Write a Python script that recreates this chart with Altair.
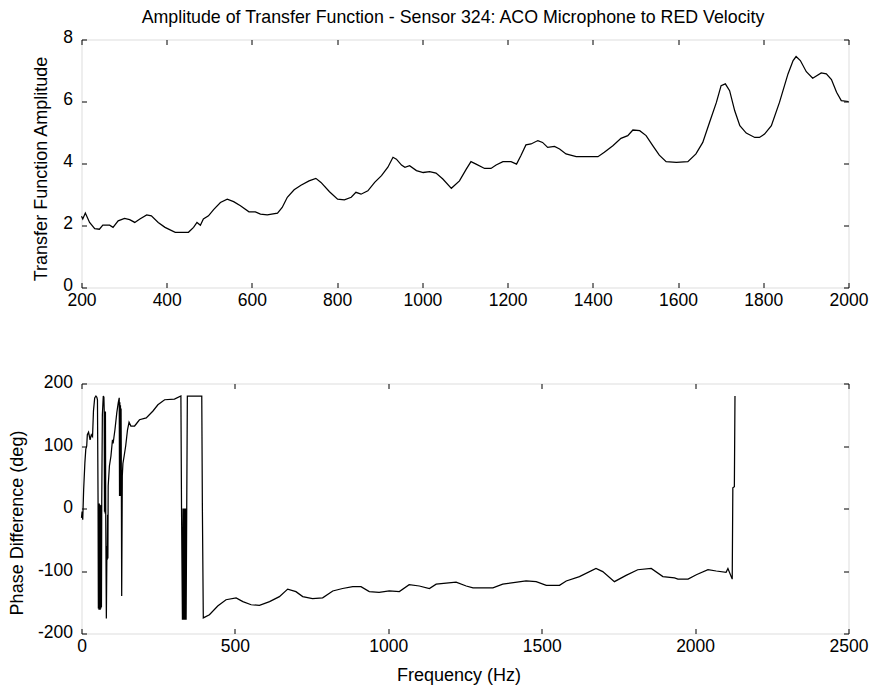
import altair as alt
import pandas as pd

# ---- Top panel: amplitude of transfer function (Hz, amplitude) ----
amp_freq = [200, 203, 209, 219, 231, 242, 250, 266, 274, 286, 301, 313, 325, 337, 353, 364,
            380, 396, 420, 435, 451, 463, 471, 479, 486, 498, 510, 526, 542, 557, 573, 593,
            608, 620, 636, 660, 671, 683, 699, 715, 734, 750, 762, 782, 801, 817, 833, 844,
            856, 872, 888, 904, 919, 931, 939, 951, 959, 970, 986, 1002, 1017, 1032, 1048,
            1068, 1087, 1103, 1114, 1126, 1146, 1161, 1173, 1189, 1208, 1221, 1231, 1243,
            1255, 1271, 1282, 1294, 1310, 1322, 1337, 1361, 1388, 1412, 1427, 1447, 1466,
            1482, 1494, 1510, 1525, 1541, 1556, 1572, 1596, 1623, 1642, 1658, 1674, 1690,
            1701, 1711, 1721, 1733, 1745, 1760, 1780, 1791, 1803, 1819, 1838, 1858, 1870,
            1877, 1887, 1901, 1916, 1936, 1948, 1960, 1972, 1983, 2000]
amp_value = [2.30, 2.21, 2.40, 2.10, 1.90, 1.88, 2.01, 2.01, 1.94, 2.15, 2.23, 2.19, 2.10, 2.21,
             2.34, 2.31, 2.10, 1.94, 1.78, 1.78, 1.78, 1.94, 2.10, 2.01, 2.21, 2.31, 2.51, 2.74,
             2.85, 2.77, 2.64, 2.44, 2.44, 2.37, 2.34, 2.40, 2.58, 2.91, 3.15, 3.30, 3.44, 3.52,
             3.39, 3.09, 2.85, 2.83, 2.91, 3.07, 3.01, 3.12, 3.39, 3.61, 3.88, 4.20, 4.14, 3.95,
             3.88, 3.93, 3.77, 3.71, 3.74, 3.69, 3.50, 3.20, 3.44, 3.82, 4.06, 3.98, 3.84, 3.84,
             3.95, 4.06, 4.06, 3.98, 4.25, 4.60, 4.63, 4.74, 4.68, 4.52, 4.55, 4.47, 4.31, 4.22,
             4.22, 4.22, 4.36, 4.57, 4.81, 4.90, 5.08, 5.06, 4.90, 4.57, 4.27, 4.06, 4.04, 4.06,
             4.31, 4.68, 5.33, 5.97, 6.51, 6.57, 6.35, 5.70, 5.22, 4.98, 4.84, 4.84, 4.95, 5.22,
             5.97, 6.89, 7.32, 7.45, 7.32, 6.96, 6.75, 6.92, 6.89, 6.71, 6.30, 6.03, 6.00]

# ---- Bottom panel: phase difference (Hz, degrees) ----
phase_freq = [0, 2, 4, 7, 11, 14, 17, 19, 23, 28, 32, 36, 39, 43, 47, 50, 52, 54,
              55, 56, 57, 58, 59, 60, 61, 62, 63, 64, 65, 66, 68, 71, 73,
              74, 75, 76, 77, 78, 79, 81, 83, 84, 85, 86, 87, 91, 96, 101, 103, 109, 115, 120, 123,
              124, 125, 126, 127, 128, 129, 130, 131, 133, 135, 139, 144, 150, 155, 161, 173, 189,
              211, 233, 249, 271, 303, 324, 326,
              329, 331, 333, 335, 337, 339, 341, 343, 345, 392, 394, 397,
              417, 444, 471, 504, 526, 553, 580, 613, 645, 672, 699, 721, 753, 786, 819, 851,
              884, 911, 938, 970, 1003, 1036, 1068, 1101, 1134, 1156, 1221, 1254, 1276, 1341,
              1373, 1449, 1482, 1515, 1558, 1580, 1623, 1677, 1699, 1737, 1775, 1813, 1857, 1895,
              1933, 1944, 1977, 2004, 2042, 2069, 2101, 2107, 2121, 2123, 2128, 2130]
phase_value = [-15, -5, -18, 30, 73, 95, 100, 118, 122, 110, 118, 115, 156, 177, 180, 178, 174, 9,
               -160, 5, -162, 8, -160, 6, -162, 5, -160, 4, -158, 10, 150, 180, 178,
               158, -5, 150, -8, 155, -10, -176, -60, -82, -10, -80, 36, 68, 84, 110, 104, 126, 153, 170, 177,
               20, 170, 25, 165, 20, 160, 30, -140, 52, 72, 84, 100, 126, 138, 132, 132, 142,
               145, 156, 166, 174, 175, 180, 1,
               -178, 0, -178, 0, -178, 0, -178, 0, 180, 180, 1, -175,
               -170, -156, -146, -143, -149, -154, -155, -149, -141, -129, -133, -141, -144, -143,
               -132, -128, -125, -125, -133, -134, -132, -133, -122, -124, -128, -121, -118, -124,
               -127, -127, -121, -116, -117, -123, -123, -116, -109, -96, -101, -117, -107, -98,
               -96, -109, -111, -113, -113, -106, -98, -100, -102, -96, -113, 33, 35, 180]

title_text = "Amplitude of Transfer Function - Sensor 324: ACO Microphone to RED Velocity"
amp_ticks_x = [200, 400, 600, 800, 1000, 1200, 1400, 1600, 1800, 2000]
amp_ticks_y = [0, 2, 4, 6, 8]
ph_ticks_x = [0, 500, 1000, 1500, 2000, 2500]
ph_ticks_y = [-200, -100, 0, 100, 200]

amp_df = pd.DataFrame({"freq": amp_freq, "amp": amp_value, "i": range(len(amp_freq))})
ph_df = pd.DataFrame({"freq": phase_freq, "phase": phase_value, "i": range(len(phase_freq))})

FONT = "Liberation Sans"
LBL = 17.5
TTL = 18


def main_axis(orient, values, title, label_pad, title_pad, title_x=None, title_y=None,
              label_offset=0):
    kw = {}
    if title_x is not None:
        kw["titleX"] = title_x
    if title_y is not None:
        kw["titleY"] = title_y
    return alt.Axis(orient=orient, values=values, title=title, grid=False, domain=False,
                    ticks=True, tickSize=5, offset=-5, tickColor="black", tickWidth=1,
                    labelPadding=label_pad, labelFlush=False, labelOverlap=False,
                    labelOffset=label_offset,
                    labelExpr="toString(datum.value)",
                    labelFont=FONT, labelFontSize=LBL, labelColor="black",
                    titleFont=FONT, titleFontSize=TTL, titleFontWeight="normal",
                    titleColor="black", titlePadding=title_pad, **kw)


def edge_axis(orient, values):
    return alt.Axis(orient=orient, values=values, title=None, grid=False, domain=False,
                    labels=False, ticks=True, tickSize=5, offset=-5, tickColor="black",
                    tickWidth=1)


def panel(df, ycol, xdom, ydom, xt, yt, xaxis, yaxis, h):
    xs = alt.Scale(domain=xdom, nice=False, zero=False)
    ys = alt.Scale(domain=ydom, nice=False, zero=False)
    line = alt.Chart(df).mark_line(color="black", strokeWidth=1.25).encode(
        x=alt.X("freq:Q", scale=xs, axis=xaxis),
        y=alt.Y(f"{ycol}:Q", scale=ys, axis=yaxis),
        order="i:Q",
    )
    frame_ticks = alt.Chart(df).mark_line(strokeOpacity=0).encode(
        x=alt.X("freq:Q", scale=xs, axis=edge_axis("top", xt)),
        y=alt.Y(f"{ycol}:Q", scale=ys, axis=edge_axis("right", yt)),
        order="i:Q",
    )
    return alt.layer(line, frame_ticks).resolve_axis(x="independent", y="independent").properties(
        width=767, height=h)


top = panel(amp_df, "amp", [200, 2000], [0, 8], amp_ticks_x, amp_ticks_y,
            main_axis("bottom", amp_ticks_x, None, 4, 11),
            main_axis("left", amp_ticks_y, "Transfer Function Amplitude", 9, 12, title_y=129,
                      label_offset=-2),
            248).properties(
    title=alt.Title(title_text, font=FONT, fontSize=17.8, fontWeight="normal",
                    color="black", offset=2, anchor="middle", dx=-12))

bottom = panel(ph_df, "phase", [-0.0001, 2500], [-200, 200], ph_ticks_x, ph_ticks_y,
               main_axis("bottom", ph_ticks_x, "Frequency (Hz)", 4, 11, title_x=377),
               main_axis("left", ph_ticks_y, "Phase Difference (deg)", 9, 11, title_y=139,
                         label_offset=-1),
               250)

chart = alt.vconcat(top, bottom, spacing=63).properties(
    padding={"left": 7.5, "top": 7.5, "right": 3, "bottom": 3}
).configure_view(stroke="black", strokeWidth=1).configure(background="white")

chart.save("out.html", embed_options={"renderer": "svg", "actions": False})
